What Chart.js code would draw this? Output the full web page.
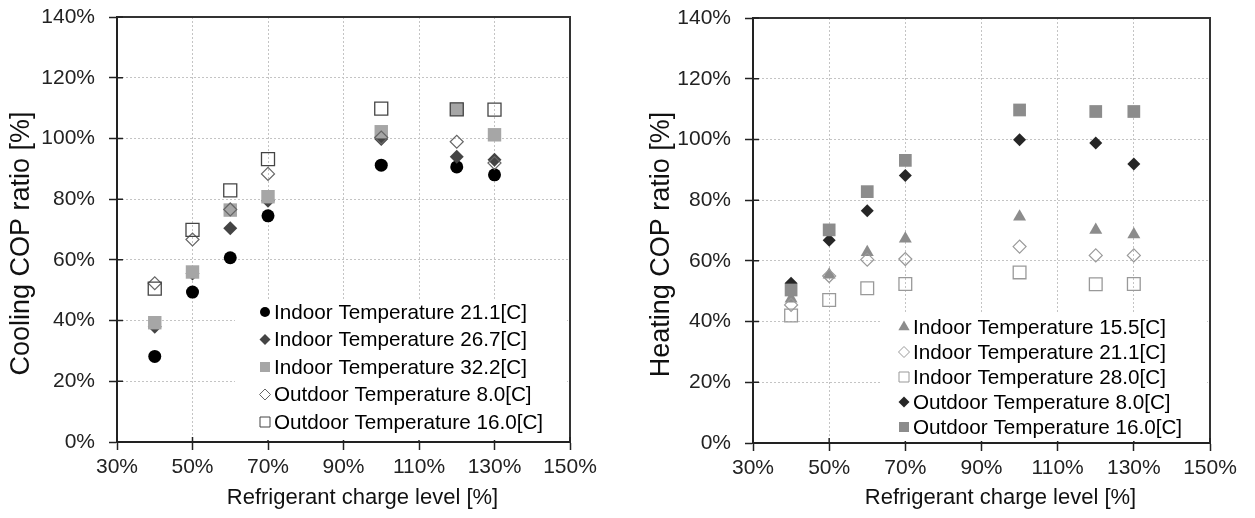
<!DOCTYPE html>
<html>
<head>
<meta charset="utf-8">
<script src="https://cdn.jsdelivr.net/npm/chart.js@4.4.0/dist/chart.umd.min.js"></script>
<style>
  html, body { margin: 0; padding: 0; background: #fff; }
  #wrap { position: relative; width: 1255px; height: 518px; }
  canvas { position: absolute; top: 0; }
  #cooling { left: 0; }
  #heating { left: 625px; }
</style>
</head>
<body>
<div id="wrap">
  <canvas id="cooling" width="625" height="518"></canvas>
  <canvas id="heating" width="630" height="518"></canvas>
</div>
<script>
// charge levels tested [%]
const chargeLevels = [40, 50, 60, 70, 100, 120, 130];
const xTicks = [30, 50, 70, 90, 110, 130, 150];
const yTicks = [0, 20, 40, 60, 80, 100, 120, 140];

// cooling COP ratio [%]
const coolLabels = ['Indoor Temperature 21.1[C]', 'Indoor Temperature 26.7[C]', 'Indoor Temperature 32.2[C]',
                    'Outdoor Temperature 8.0[C]', 'Outdoor Temperature 16.0[C]'];
const coolIn211  = [28.2, 49.4, 60.7, 74.5, 91.2, 90.6, 88.0];
const coolIn267  = [38.0, 55.5, 70.4, 79.5, 99.8, 94.0, 93.0];
const coolIn322  = [39.3, 56.0, 76.4, 80.8, 102.2, 109.6, 101.2];
const coolOut80  = [52.3, 66.7, 76.6, 88.3, 100.3, 98.9, 91.9];
const coolOut160 = [50.5, 69.9, 82.9, 93.2, 109.8, 109.6, 109.5];

// heating COP ratio [%]
const heatLabels = ['Indoor Temperature 15.5[C]', 'Indoor Temperature 21.1[C]', 'Indoor Temperature 28.0[C]',
                    'Outdoor Temperature 8.0[C]', 'Outdoor Temperature 16.0[C]'];
const heatIn155  = [47.5, 55.4, 62.8, 67.3, 74.5, 70.2, 68.7];
const heatIn211  = [45.5, 55.0, 60.4, 60.6, 64.7, 61.8, 61.8];
const heatIn280  = [42.0, 47.1, 51.0, 52.4, 56.2, 52.3, 52.4];
const heatOut80  = [52.6, 66.8, 76.5, 88.1, 99.9, 98.8, 91.9];
const heatOut160 = [50.4, 70.2, 82.8, 93.1, 109.7, 109.2, 109.2];

Chart.defaults.font.family = '"Liberation Sans", Arial, sans-serif';

function series(label, values, style, radius, fill, stroke, bw, idx) {
  return {
    label: label,
    data: chargeLevels.map((x, i) => ({ x: x, y: values[i] })),
    pointStyle: style,
    pointRadius: radius,
    pointBackgroundColor: fill,
    pointBorderColor: stroke,
    pointBorderWidth: bw,
    showLine: false,
    order: 10 - idx   // later series drawn on top, like the original
  };
}

function drawMarker(ctx, style, x, y, r, fill, stroke, bw) {
  ctx.beginPath();
  if (style === 'circle') {
    ctx.arc(x, y, r, 0, Math.PI * 2);
  } else if (style === 'rect') {
    ctx.rect(x - r, y - r, 2 * r, 2 * r);
  } else if (style === 'rectRot') {
    ctx.moveTo(x, y - r); ctx.lineTo(x + r, y); ctx.lineTo(x, y + r); ctx.lineTo(x - r, y);
    ctx.closePath();
  } else if (style === 'triangle') {
    ctx.moveTo(x, y - r); ctx.lineTo(x + r * 0.87, y + r * 0.5); ctx.lineTo(x - r * 0.87, y + r * 0.5);
    ctx.closePath();
  }
  ctx.fillStyle = fill;
  ctx.fill();
  if (bw > 0) {
    ctx.lineWidth = bw;
    ctx.strokeStyle = stroke;
    ctx.stroke();
  }
}

// frame on top/right, inner half of the tick marks, legend box and axis titles
const decor = {
  id: 'decor',
  afterDraw(chart, args, o) {
    const ctx = chart.ctx, a = chart.chartArea, sx = chart.scales.x, sy = chart.scales.y;
    ctx.save();
    ctx.strokeStyle = '#333';
    ctx.lineWidth = 2;
    ctx.beginPath();
    ctx.moveTo(a.left, a.top); ctx.lineTo(a.right, a.top); ctx.lineTo(a.right, a.bottom);
    ctx.stroke();

    ctx.lineWidth = 1.5;
    ctx.strokeStyle = '#222';
    ctx.beginPath();
    sy.ticks.forEach(t => {
      const py = sy.getPixelForValue(t.value);
      ctx.moveTo(a.left, py); ctx.lineTo(a.left + 6, py);
    });
    sx.ticks.forEach(t => {
      const px = sx.getPixelForValue(t.value);
      ctx.moveTo(px, a.bottom); ctx.lineTo(px, a.bottom - 5);
    });
    ctx.stroke();

    // legend
    const L = o.legend;
    const bx = a.left + L.markerX - L.boxPad, by = a.top + L.firstRow - 13;
    ctx.fillStyle = '#fff';
    ctx.fillRect(bx, by, a.right - 3 - bx, a.bottom - 2 - by);
    ctx.font = '20.7px "Liberation Sans", Arial, sans-serif';
    ctx.textBaseline = 'middle';
    ctx.textAlign = 'left';
    chart.data.datasets.forEach((ds, i) => {
      const x = a.left + L.markerX, y = a.top + L.firstRow + i * L.rowH;
      drawMarker(ctx, ds.pointStyle, x, y, L.sizes[ds.pointStyle], ds.pointBackgroundColor,
                 ds.pointBorderColor, ds.pointBorderWidth > 0 ? 1 : 0);
      ctx.fillStyle = '#000';
      ctx.fillText(ds.label, x + 9, y + 1);
    });

    // axis titles
    ctx.fillStyle = '#111';
    ctx.textAlign = 'center';
    ctx.font = '22px "Liberation Sans", Arial, sans-serif';
    ctx.fillText(o.xTitle, (a.left + a.right) / 2 + 19, 498);
    ctx.translate(o.yTitleX, (a.top + a.bottom) / 2 + 14);
    ctx.rotate(-Math.PI / 2);
    ctx.font = '27px "Liberation Sans", Arial, sans-serif';
    ctx.fillText(o.yTitle, 0, 0);
    ctx.restore();
  }
};

function makeOptions(yAxisWidth, xAxisHeight, pad, decorOpts) {
  return {
    responsive: false,
    animation: false,
    events: [],
    layout: { padding: pad },
    plugins: { legend: { display: false }, tooltip: { enabled: false }, decor: decorOpts },
    scales: {
      x: {
        type: 'linear',
        min: 30, max: 150,
        afterBuildTicks: s => { s.ticks = xTicks.map(v => ({ value: v })); },
        afterFit: s => { s.height = xAxisHeight; s.paddingLeft = 0; s.paddingRight = 0; },
        ticks: { color: '#222', font: { size: 21 }, padding: 5, callback: v => v + '%' },
        grid: { color: '#c4c4c4', tickColor: '#222', tickLength: 8, tickWidth: 1.5 },
        border: { color: '#222', width: 2, dash: [2, 2] }
      },
      y: {
        min: 0, max: 140,
        afterBuildTicks: s => { s.ticks = yTicks.map(v => ({ value: v })); },
        afterFit: s => { s.width = yAxisWidth; s.paddingTop = 0; s.paddingBottom = 0; },
        ticks: { color: '#222', font: { size: 21 }, padding: 14, callback: v => v + '%' },
        grid: { color: '#c4c4c4', tickColor: '#222', tickLength: 8, tickWidth: 1.5 },
        border: { color: '#222', width: 2, dash: [2, 2] }
      }
    }
  };
}

new Chart(document.getElementById('cooling'), {
  type: 'scatter',
  data: {
    datasets: [
      series(coolLabels[0], coolIn211, 'circle', 6.5, '#000', '#000', 0, 0),
      series(coolLabels[1], coolIn267, 'rectRot', 7, '#444', '#444', 0, 1),
      series(coolLabels[2], coolIn322, 'rect', 9.5, '#a6a6a6', '#a6a6a6', 0, 2),
      series(coolLabels[3], coolOut80, 'rectRot', 6.5, 'rgba(255,255,255,0)', '#666', 1.2, 3),
      series(coolLabels[4], coolOut160, 'rect', 9.2, 'rgba(255,255,255,0)', '#444', 1.3, 4)
    ]
  },
  options: makeOptions(117, 76, { top: 17, right: 55, left: 0, bottom: 0 }, {
    legend: { markerX: 148, boxPad: 30, firstRow: 295, rowH: 27.5,
              sizes: { circle: 5, rectRot: 5.5, rect: 5, triangle: 6 } },
    xTitle: 'Refrigerant charge level [%]',
    yTitle: 'Cooling COP ratio [%]',
    yTitleX: 22
  }),
  plugins: [decor]
});

new Chart(document.getElementById('heating'), {
  type: 'scatter',
  data: {
    datasets: [
      series(heatLabels[0], heatIn155, 'triangle', 7.5, '#8c8c8c', '#8c8c8c', 0, 0),
      series(heatLabels[1], heatIn211, 'rectRot', 6.5, 'rgba(255,255,255,0)', '#9a9a9a', 1.2, 1),
      series(heatLabels[2], heatIn280, 'rect', 9, 'rgba(255,255,255,0)', '#999', 1.3, 2),
      series(heatLabels[3], heatOut80, 'rectRot', 6.5, '#262626', '#262626', 0, 3),
      series(heatLabels[4], heatOut160, 'rect', 9, '#8c8c8c', '#8c8c8c', 0, 4)
    ]
  },
  options: makeOptions(128, 75, { top: 18, right: 45, left: 0, bottom: 0 }, {
    legend: { markerX: 151, boxPad: 24, firstRow: 309, rowH: 25,
              sizes: { circle: 5, rectRot: 5.5, rect: 5, triangle: 6.5 } },
    xTitle: 'Refrigerant charge level [%]',
    yTitle: 'Heating COP ratio [%]',
    yTitleX: 37
  }),
  plugins: [decor]
});
</script>
</body>
</html>
